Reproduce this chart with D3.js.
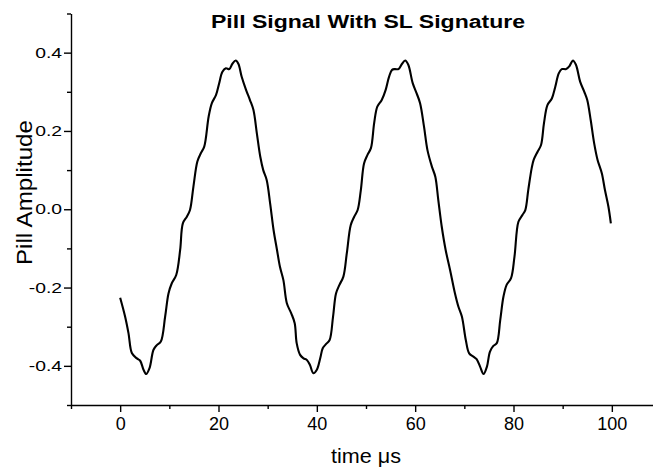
<!DOCTYPE html>
<html>
<head>
<meta charset="utf-8">
<script src="https://cdn.jsdelivr.net/npm/d3@7"></script>
<style>
  html, body { margin: 0; padding: 0; background: #fff; }
  svg { display: block; font-family: "Liberation Sans", Arial, sans-serif; }
</style>
</head>
<body>
<svg id="chart" width="653" height="469"></svg>
<script>
// ---- data ----
const timeUs = [0, 1.0, 1.7, 2.4, 3.4, 4.07, 4.75, 5.29, 5.97, 6.78, 7.46, 8.27, 9.15, 9.83, 10.5, 11.4, 12.2, 12.75, 13.56, 14.2, 14.9, 15.7, 16.4, 17.1, 18.0, 18.65, 19.5, 20.1, 20.8, 21.5, 22.2, 22.8, 23.5, 24.06, 24.7, 25.6, 26.4, 27.1, 27.8, 28.5, 29.1, 29.8, 30.5, 31.2, 31.9, 32.5, 33.2, 33.9, 34.8, 35.5, 35.9, 36.6, 37.3, 37.97, 38.6, 39.3, 40.0, 40.7, 41.2, 41.9, 42.6, 43.3, 43.9, 44.6, 45.4, 46.1, 46.9, 47.6, 48.3, 48.95, 49.6, 50.3, 51.0, 51.66, 52.3, 53.2, 54.0, 54.7, 55.3, 55.9, 56.6, 57.3, 57.96, 58.6, 59.5, 60.3, 61.0, 61.8, 62.5, 63.4, 64.1, 64.7, 65.4, 66.2, 67.1, 68.1, 68.8, 69.5, 70.3, 70.98, 71.9, 72.5, 73.2, 73.9, 74.6, 75.2, 75.9, 76.6, 77.3, 77.96, 78.6, 79.5, 80.2, 81.0, 81.8, 82.4, 83.0, 83.7, 84.1, 84.9, 85.6, 86.2, 86.9, 87.8, 88.5, 89.2, 89.8, 90.7, 91.4, 92.07, 92.7, 93.55, 94.4, 95.0, 95.7, 96.4, 97.1, 97.96, 98.6, 99.3, 99.8];
const amplitude = [-0.226, -0.274, -0.317, -0.368, -0.381, -0.387, -0.41, -0.421, -0.406, -0.359, -0.347, -0.338, -0.274, -0.215, -0.189, -0.168, -0.104, -0.036, -0.019, -0.002, 0.058, 0.122, 0.143, 0.160, 0.237, 0.271, 0.292, 0.320, 0.351, 0.360, 0.358, 0.371, 0.380, 0.371, 0.339, 0.305, 0.279, 0.254, 0.194, 0.134, 0.100, 0.075, 0.015, -0.053, -0.104, -0.147, -0.181, -0.240, -0.266, -0.291, -0.342, -0.372, -0.381, -0.385, -0.398, -0.419, -0.41, -0.38, -0.355, -0.344, -0.334, -0.274, -0.215, -0.193, -0.172, -0.112, -0.040, -0.019, -0.002, 0.049, 0.117, 0.139, 0.156, 0.220, 0.262, 0.279, 0.305, 0.339, 0.356, 0.358, 0.358, 0.371, 0.380, 0.369, 0.322, 0.296, 0.271, 0.211, 0.151, 0.109, 0.083, 0.024, -0.044, -0.104, -0.155, -0.215, -0.249, -0.274, -0.334, -0.368, -0.377, -0.383, -0.402, -0.421, -0.402, -0.364, -0.349, -0.342, -0.283, -0.223, -0.193, -0.176, -0.121, -0.032, -0.015, -0.002, 0.049, 0.105, 0.126, 0.147, 0.164, 0.220, 0.266, 0.283, 0.313, 0.347, 0.358, 0.358, 0.366, 0.380, 0.369, 0.326, 0.300, 0.279, 0.228, 0.169, 0.126, 0.092, 0.049, 0.007, -0.036];
const xMajorTicks = [0, 20, 40, 60, 80, 100];
const xMinorTicks = [-10, 10, 30, 50, 70, 90, 110];
const yMajorTicks = [-0.4, -0.2, 0.0, 0.2, 0.4];
const yMinorTicks = [-0.5, -0.3, -0.1, 0.1, 0.3, 0.5];
const titleText = "Pill Signal With SL Signature";
const xLabelText = "time\u00a0\u03bcs";
const yLabelText = "Pill Amplitude";

// ---- drawing ----
const svg = d3.select("#chart");
const x = d3.scaleLinear().domain([-10, 110]).range([71, 661]);
const y = d3.scaleLinear().domain([-0.5, 0.5]).range([405, 13.5]);

const axisColor = "#000";
const fmtY = v => d3.format(".1f")(v).replace("\u2212", "-");

// X axis (major + minor)
const gx = svg.append("g").attr("transform", `translate(0,${y(-0.5)})`);
gx.call(d3.axisBottom(x).tickValues(xMajorTicks).tickSize(7).tickSizeOuter(0).tickPadding(5)
  .tickFormat(d3.format("d")));
const gxm = svg.append("g").attr("transform", `translate(0,${y(-0.5)})`);
gxm.call(d3.axisBottom(x).tickValues(xMinorTicks).tickSize(4).tickSizeOuter(0).tickFormat(""));
gxm.select(".domain").remove();

// Y axis (major + minor)
const gy = svg.append("g").attr("transform", `translate(${x(-10)},0)`);
gy.call(d3.axisLeft(y).tickValues(yMajorTicks).tickSize(7).tickSizeOuter(0).tickPadding(2)
  .tickFormat(fmtY));
const gym = svg.append("g").attr("transform", `translate(${x(-10)},0)`);
gym.call(d3.axisLeft(y).tickValues(yMinorTicks).tickSize(4).tickSizeOuter(0).tickFormat(""));
gym.select(".domain").remove();

svg.selectAll(".domain, .tick line").attr("stroke", axisColor).attr("stroke-width", 1.4);

gx.selectAll(".tick text")
  .attr("font-family", "'Liberation Sans', Arial, sans-serif")
  .attr("font-size", 18).attr("fill", "#000");

gy.selectAll(".tick text")
  .attr("font-family", "'Liberation Sans', Arial, sans-serif")
  .attr("font-size", 14).attr("fill", "#000")
  .each(function () {
    const w = this.getComputedTextLength();
    d3.select(this).attr("textLength", w * 1.38).attr("lengthAdjust", "spacingAndGlyphs");
  });

// line
const line = d3.line()
  .x((d, i) => x(timeUs[i]))
  .y(d => y(d))
  .curve(d3.curveCatmullRom.alpha(0.5));

svg.append("path")
  .datum(amplitude)
  .attr("d", line)
  .attr("fill", "none")
  .attr("stroke", "#000")
  .attr("stroke-width", 2.1)
  .attr("stroke-linejoin", "round")
  .attr("stroke-linecap", "butt");

// title
svg.append("text")
  .attr("x", 368).attr("y", 27.5)
  .attr("text-anchor", "middle")
  .attr("font-weight", "bold")
  .attr("font-size", 17.5)
  .attr("textLength", 314).attr("lengthAdjust", "spacingAndGlyphs")
  .text(titleText);

// x label
svg.append("text")
  .attr("x", 366).attr("y", 463)
  .attr("text-anchor", "middle")
  .attr("font-size", 20)
  .attr("textLength", 70).attr("lengthAdjust", "spacingAndGlyphs")
  .text(xLabelText);

// y label
svg.append("text")
  .attr("transform", "translate(31.5,192.5) rotate(-90)")
  .attr("text-anchor", "middle")
  .attr("font-size", 22)
  .attr("textLength", 145).attr("lengthAdjust", "spacingAndGlyphs")
  .text(yLabelText);
</script>
</body>
</html>
